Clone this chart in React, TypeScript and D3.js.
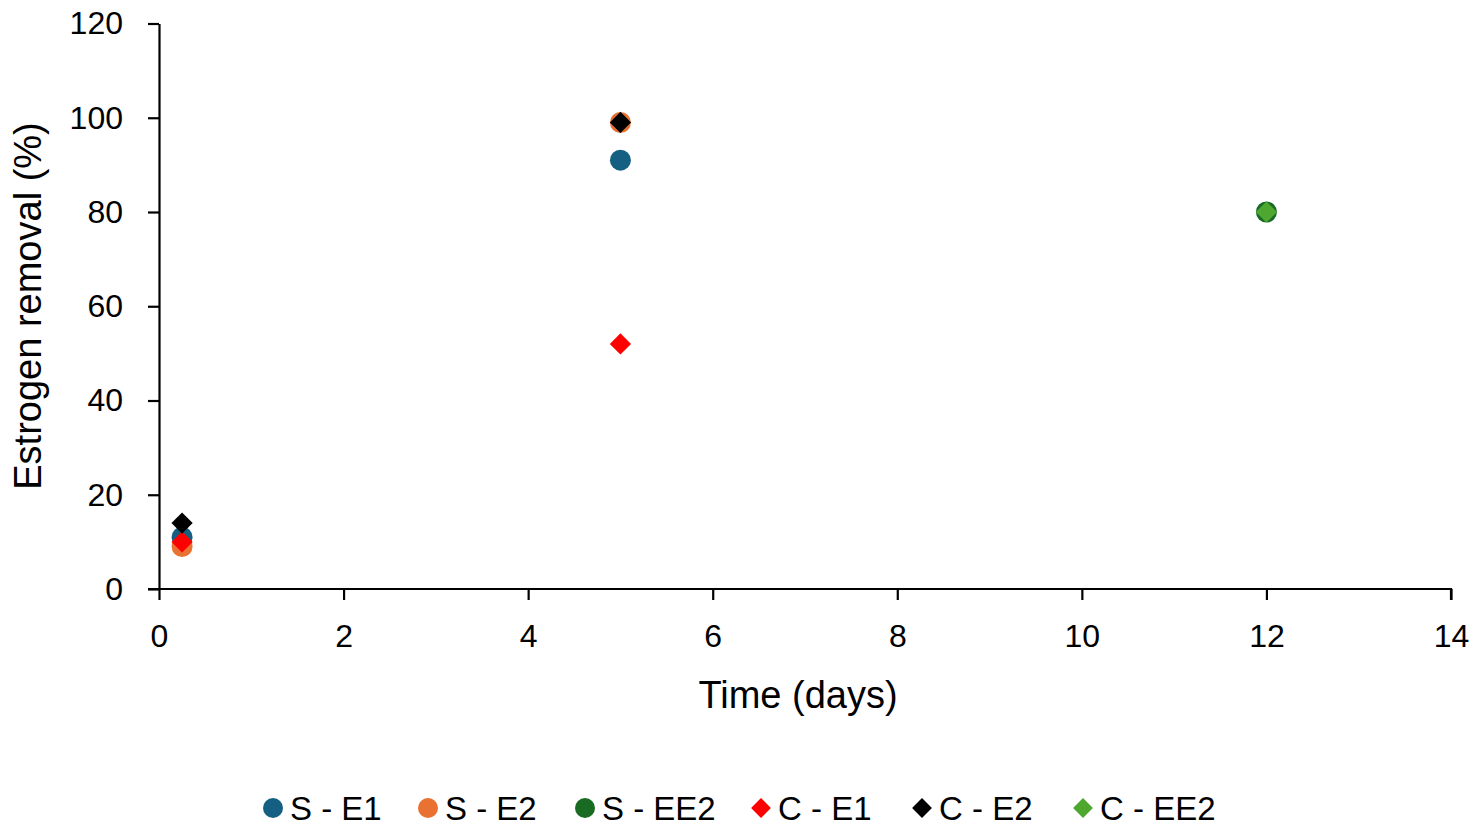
import React, { useRef, useEffect } from "react";
import * as d3 from "d3";

// series values: [time in days, removal %]
const seriesNames = ["S - E1", "S - E2", "S - EE2", "C - E1", "C - E2", "C - EE2"];
const seriesColors = ["#156082", "#E97132", "#196B24", "#FF0000", "#000000", "#4EA72E"];
const seriesShapes = ["circle", "circle", "circle", "diamond", "diamond", "diamond"];

const sE1: [number, number][] = [[0.25, 11], [5, 91]];
const sE2: [number, number][] = [[0.25, 9], [5, 99]];
const sEE2: [number, number][] = [[12, 80]];
const cE1: [number, number][] = [[0.25, 10], [5, 52]];
const cE2: [number, number][] = [[0.25, 14], [5, 99]];
const cEE2: [number, number][] = [[12, 80]];

const xTicks = [0, 2, 4, 6, 8, 10, 12, 14];
const yTicks = [0, 20, 40, 60, 80, 100, 120];

const App: React.FC = () => {
  const ref = useRef<SVGSVGElement>(null);

  useEffect(() => {
    if (!ref.current) return;
    const svg = d3.select(ref.current);
    svg.selectAll("*").remove();

    const allSeries = [sE1, sE2, sEE2, cE1, cE2, cEE2];
    const font = "'Liberation Sans', Arial, sans-serif";

    const x = d3.scaleLinear().domain([0, 14]).range([159, 1451]);
    const y = d3.scaleLinear().domain([0, 120]).range([589, 23.5]);

    const circle = d3.symbol().type(d3.symbolCircle).size(Math.PI * 10.5 * 10.5);
    const diamond = d3.symbol().type(d3.symbolSquare).size(15 * 15);

    const marker = (sel: any, shape: string, color: string) => {
      if (shape === "circle") {
        sel.append("path").attr("d", circle()).attr("fill", color);
      } else {
        sel
          .append("path")
          .attr("d", diamond())
          .attr("transform", "rotate(45)")
          .attr("fill", color);
      }
    };

    // axes
    const xAxis = svg
      .append("g")
      .attr("transform", `translate(0,${y(0)})`)
      .call(d3.axisBottom(x).tickValues(xTicks).tickSize(11).tickPadding(24).tickSizeOuter(0));
    const yAxis = svg
      .append("g")
      .attr("transform", `translate(${x(0)},0)`)
      .call(d3.axisLeft(y).tickValues(yTicks).tickSize(11).tickPadding(25).tickSizeOuter(0));

    [xAxis, yAxis].forEach((a) => {
      a.select(".domain").attr("stroke", "#000").attr("stroke-width", 2.2);
      a.selectAll(".tick line").attr("stroke", "#000").attr("stroke-width", 2.2);
      a.selectAll(".tick text")
        .attr("fill", "#000")
        .style("font-family", font)
        .style("font-size", "32px");
    });
    // extend x axis line slightly to the left like the original
    xAxis.select(".domain").attr("d", `M${x(0) - 11},0H${x(14)}V11`);

    // axis titles
    svg
      .append("text")
      .attr("x", 798)
      .attr("y", 708)
      .attr("text-anchor", "middle")
      .style("font-family", font)
      .style("font-size", "38px")
      .text("Time (days)");
    svg
      .append("text")
      .attr("transform", "translate(41,306) rotate(-90)")
      .attr("text-anchor", "middle")
      .style("font-family", font)
      .style("font-size", "38px")
      .text("Estrogen removal (%)");

    // points
    allSeries.forEach((data, i) => {
      data.forEach((d) => {
        const g = svg.append("g").attr("transform", `translate(${x(d[0])},${y(d[1])})`);
        marker(g, seriesShapes[i], seriesColors[i]);
      });
    });

    // legend
    const legendX = [273, 428, 585, 761, 922, 1083];
    seriesNames.forEach((name, i) => {
      const g = svg.append("g").attr("transform", `translate(${legendX[i]},808)`);
      if (seriesShapes[i] === "circle") {
        g.append("circle").attr("r", 10).attr("fill", seriesColors[i]);
      } else {
        g.append("path")
          .attr("d", d3.symbol().type(d3.symbolSquare).size(14 * 14)())
          .attr("transform", "rotate(45)")
          .attr("fill", seriesColors[i]);
      }
      g.append("text")
        .attr("x", 17)
        .attr("y", 12)
        .style("font-family", font)
        .style("font-size", "33px")
        .text(name);
    });
  }, []);

  return (
    <svg
      ref={ref}
      width={1477}
      height={828}
      style={{ position: "absolute", left: 0, top: 0, background: "#fff" }}
    ></svg>
  );
};

export default App;
